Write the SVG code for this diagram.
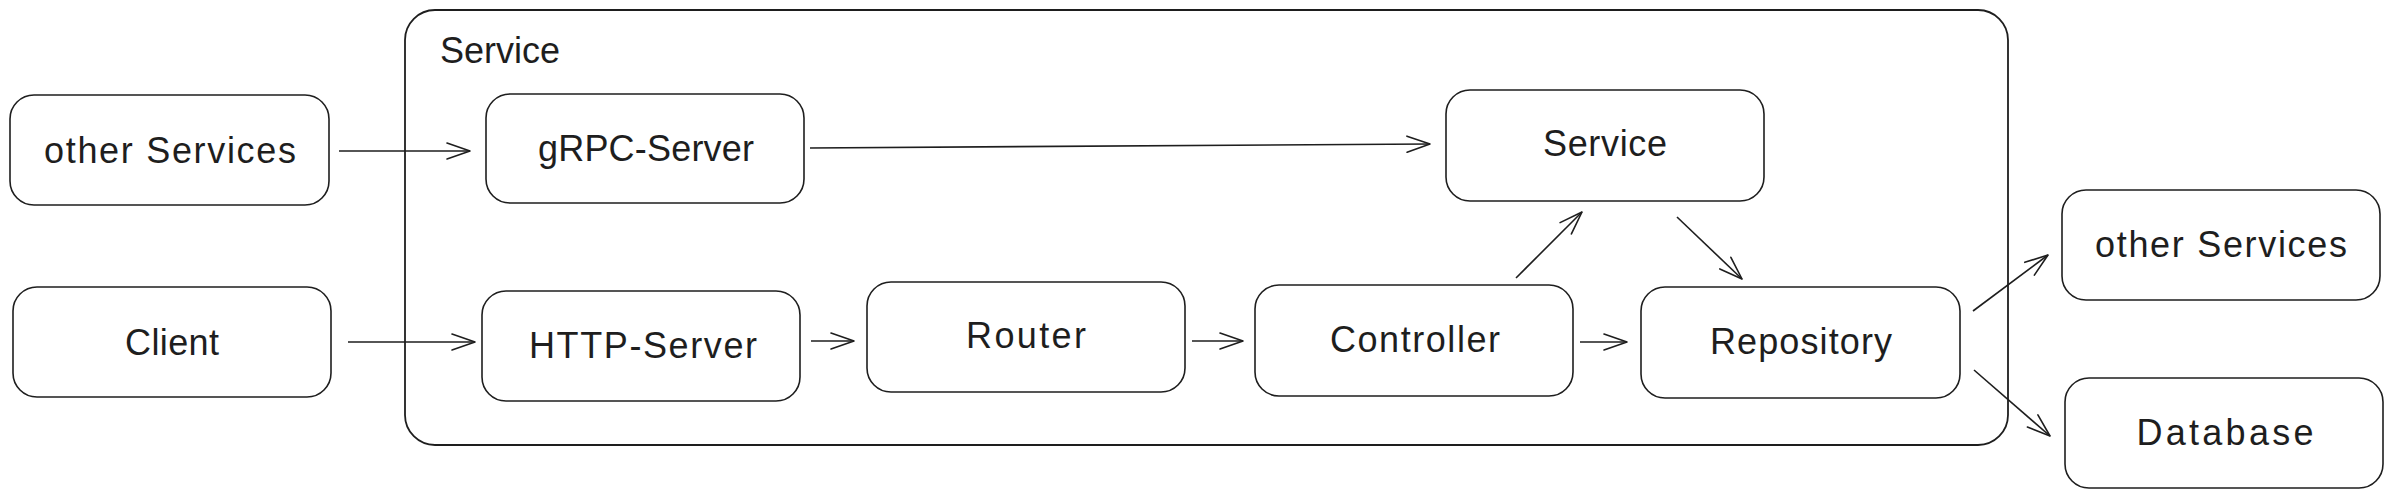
<svg xmlns="http://www.w3.org/2000/svg" width="2393" height="497" viewBox="0 0 2393 497">
<style>
  .box { fill: #ffffff; stroke: #1e1e1e; stroke-width: 1.6; }
  .container { fill: none; stroke: #1e1e1e; stroke-width: 1.8; }
  .lbl { font-family: "Liberation Sans", "DejaVu Sans", sans-serif; font-size: 36px; fill: #1e1e1e; text-anchor: middle; }
  .title { font-family: "Liberation Sans", "DejaVu Sans", sans-serif; font-size: 36px; fill: #1e1e1e; }
  .conn { fill: none; stroke: #1e1e1e; stroke-width: 1.6; }
</style>
<defs>
  <marker id="arr" markerUnits="userSpaceOnUse" viewBox="-28 -12 32 24" refX="0" refY="0" markerWidth="32" markerHeight="24" orient="auto">
    <path d="M-23,-8 L0,0 L-23,8" fill="none" stroke="#1e1e1e" stroke-width="1.6" stroke-linecap="round" stroke-linejoin="round"/>
  </marker>
</defs>
<rect width="2393" height="497" fill="#ffffff"/>

<g id="container-service">
  <rect class="container" x="405" y="10" width="1603" height="435" rx="30" ry="30"/>
  <text class="title" x="440" y="63" textLength="120" lengthAdjust="spacing">Service</text>
</g>

<g id="node-other-services-left">
  <rect class="box" x="10" y="95" width="319" height="110" rx="24" ry="24"/>
  <text class="lbl" x="170" y="163" textLength="252" lengthAdjust="spacing">other Services</text>
</g>
<g id="node-client">
  <rect class="box" x="13" y="287" width="318" height="110" rx="24" ry="24"/>
  <text class="lbl" x="172" y="355" textLength="94" lengthAdjust="spacing">Client</text>
</g>
<g id="node-grpc-server">
  <rect class="box" x="486" y="94" width="318" height="109" rx="24" ry="24"/>
  <text class="lbl" x="646" y="161" textLength="216" lengthAdjust="spacing">gRPC-Server</text>
</g>
<g id="node-http-server">
  <rect class="box" x="482" y="291" width="318" height="110" rx="24" ry="24"/>
  <text class="lbl" x="643" y="358" textLength="228" lengthAdjust="spacing">HTTP-Server</text>
</g>
<g id="node-router">
  <rect class="box" x="867" y="282" width="318" height="110" rx="24" ry="24"/>
  <text class="lbl" x="1026" y="348" textLength="120" lengthAdjust="spacing">Router</text>
</g>
<g id="node-controller">
  <rect class="box" x="1255" y="285" width="318" height="111" rx="24" ry="24"/>
  <text class="lbl" x="1415" y="352" textLength="170" lengthAdjust="spacing">Controller</text>
</g>
<g id="node-service">
  <rect class="box" x="1446" y="90" width="318" height="111" rx="24" ry="24"/>
  <text class="lbl" x="1605" y="156" textLength="124" lengthAdjust="spacing">Service</text>
</g>
<g id="node-repository">
  <rect class="box" x="1641" y="287" width="319" height="111" rx="24" ry="24"/>
  <text class="lbl" x="1801" y="354" textLength="182" lengthAdjust="spacing">Repository</text>
</g>
<g id="node-other-services-right">
  <rect class="box" x="2062" y="190" width="318" height="110" rx="24" ry="24"/>
  <text class="lbl" x="2221" y="257" textLength="252" lengthAdjust="spacing">other Services</text>
</g>
<g id="node-database">
  <rect class="box" x="2065" y="378" width="318" height="110" rx="24" ry="24"/>
  <text class="lbl" x="2225" y="445" textLength="177" lengthAdjust="spacing">Database</text>
</g>

<g id="connectors">
  <path class="conn" d="M339,151 L470,151" marker-end="url(#arr)"/>
  <path class="conn" d="M348,342 L475,342" marker-end="url(#arr)"/>
  <path class="conn" d="M810,148 L1430,144" marker-end="url(#arr)"/>
  <path class="conn" d="M811,341 L854,341" marker-end="url(#arr)"/>
  <path class="conn" d="M1192,341 L1243,341" marker-end="url(#arr)"/>
  <path class="conn" d="M1516,278 L1582,212" marker-end="url(#arr)"/>
  <path class="conn" d="M1580,342 L1627,342" marker-end="url(#arr)"/>
  <path class="conn" d="M1677,217 L1742,279" marker-end="url(#arr)"/>
  <path class="conn" d="M1973,311 L2048,255" marker-end="url(#arr)"/>
  <path class="conn" d="M1974,370 L2050,436" marker-end="url(#arr)"/>
</g>
</svg>
